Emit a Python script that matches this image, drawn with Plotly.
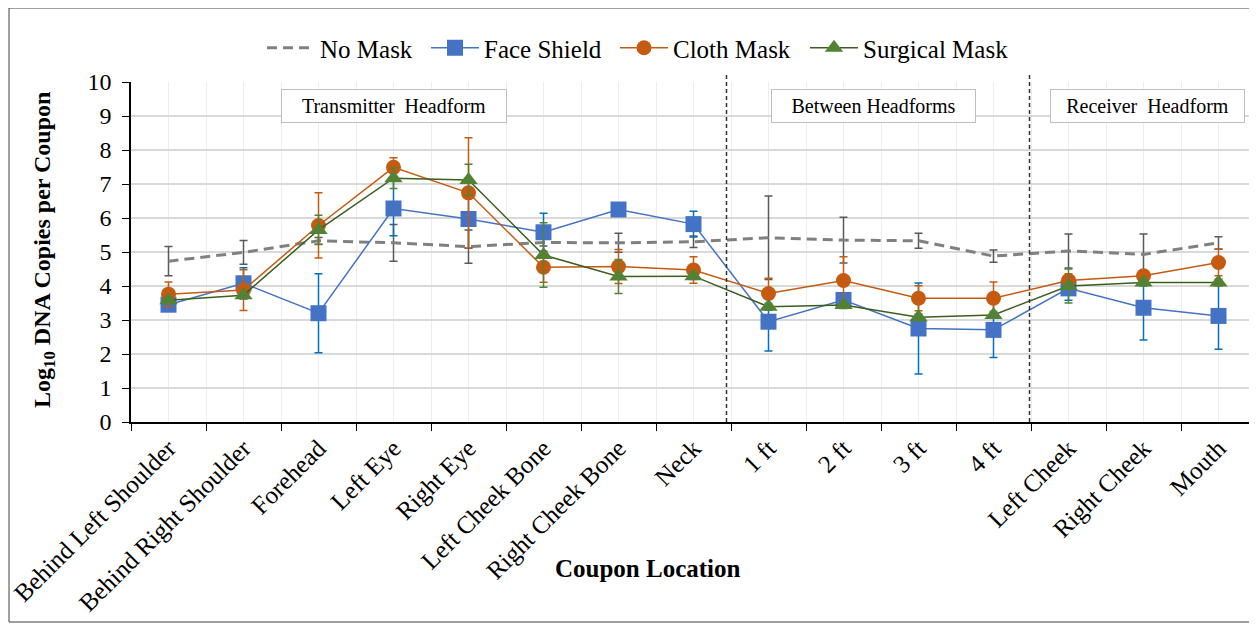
import plotly.graph_objects as go

categories = ["Behind Left Shoulder", "Behind Right Shoulder", "Forehead", "Left Eye",
              "Right Eye", "Left Cheek Bone", "Right Cheek Bone", "Neck",
              "1 ft", "2 ft", "3 ft", "4 ft", "Left Cheek", "Right Cheek", "Mouth"]

no_mask = [4.73, 4.99, 5.33, 5.27, 5.16, 5.28, 5.27, 5.30, 5.42, 5.35, 5.33, 4.88, 5.03, 4.93, 5.27]
no_mask_err = [0.43, 0.35, 0.10, 0.54, 0.49, 0.10, 0.28, 0.17, 1.23, 0.67, 0.22, 0.18, 0.50, 0.60, 0.18]

face_shield = [3.45, 4.08, 3.20, 6.28, 5.97, 5.58, 6.25, 5.82, 2.95, 3.59, 2.75, 2.71, 3.93, 3.36, 3.12]
face_shield_err = [0.10, 0.46, 1.16, 0.80, 0.86, 0.56, 0.10, 0.38, 0.86, 0.10, 1.34, 0.81, 0.35, 0.95, 0.98]

cloth_mask = [3.76, 3.88, 5.78, 7.49, 6.74, 4.55, 4.57, 4.47, 3.78, 4.16, 3.64, 3.64, 4.16, 4.30, 4.69]
cloth_mask_err = [0.36, 0.60, 0.96, 0.28, 1.62, 0.44, 0.50, 0.39, 0.45, 0.70, 0.37, 0.48, 0.20, 0.15, 0.39]

surgical_mask = [3.58, 3.73, 5.65, 7.17, 7.12, 4.91, 4.28, 4.29, 3.39, 3.44, 3.08, 3.15, 4.00, 4.10, 4.10]
surgical_mask_err = [0.10, 0.10, 0.43, 0.30, 0.46, 0.95, 0.50, 0.10, 0.10, 0.10, 0.10, 0.10, 0.50, 0.10, 0.10]

section_labels = ["Transmitter  Headform", "Between Headforms", "Receiver  Headform"]
section_x = [3.0, 9.4, 13.05]
section_box_w = [216, 195, 185]
separators = [7.44, 11.48]

FONT = "Liberation Serif"
xs = list(range(len(categories)))

# page offset of the figure (browser body margin)
OFF = 8
# plot area in page pixels
PL, PR, PT, PB = 131, 1256, 82, 422
W, H = 1257 - OFF, 625 - OFF


def px(x):
    return (x - PL) / (PR - PL)


def py(y):
    return (PB - y) / (PB - PT)


fig = go.Figure()

fig.add_trace(go.Scatter(
    x=xs, y=no_mask, name="No Mask", mode="lines", legendwidth=101,
    line=dict(color="#808080", width=3, dash="10px,6px"),
    error_y=dict(type="data", array=no_mask_err, color="#595959", thickness=1.5, width=4),
))
fig.add_trace(go.Scatter(
    x=xs, y=face_shield, name="Face Shield", mode="lines+markers", legendwidth=126,
    line=dict(color="#4472C4", width=1.5),
    marker=dict(symbol="square", size=16, color="#4472C4"),
    error_y=dict(type="data", array=face_shield_err, color="#0070C0", thickness=1.5, width=4),
))
fig.add_trace(go.Scatter(
    x=xs, y=cloth_mask, name="Cloth Mask", mode="lines+markers", legendwidth=127,
    line=dict(color="#C55A11", width=1.5),
    marker=dict(symbol="circle", size=15, color="#C55A11"),
    error_y=dict(type="data", array=cloth_mask_err, color="#C55A11", thickness=1.5, width=4),
))
fig.add_trace(go.Scatter(
    x=xs, y=surgical_mask, name="Surgical Mask", mode="lines+markers",
    line=dict(color="#3A5F1E", width=1.5),
    marker=dict(symbol="triangle-up", size=16, color="#548235"),
    error_y=dict(type="data", array=surgical_mask_err, color="#548235", thickness=1.5, width=4),
))

shapes = []
for sx in separators:
    shapes.append(dict(type="line", xref="x", yref="paper", x0=sx, x1=sx, y0=0, y1=py(75),
                       line=dict(color="#333333", width=1.5, dash="4px,3px")))
# outer chart border
shapes.append(dict(type="rect", xref="paper", yref="paper",
                   x0=px(9), x1=1.0, y0=py(622), y1=py(OFF),
                   line=dict(color="#404040", width=1), layer="below"))
fig.update_layout(shapes=shapes)

for lab, sx, bw in zip(section_labels, section_x, section_box_w):
    fig.add_annotation(x=sx, y=9.28, xref="x", yref="y", text=lab, showarrow=False,
                       font=dict(family=FONT, size=20, color="black"),
                       bordercolor="#BFBFBF", borderwidth=1, borderpad=4,
                       bgcolor="white", width=bw, height=24)

fig.add_annotation(x=px(648), y=py(568), xref="paper", yref="paper",
                   xanchor="center", yanchor="middle",
                   text="<b>Coupon Location</b>", showarrow=False,
                   font=dict(family=FONT, size=25, color="black"))
fig.add_annotation(x=px(44), y=py(250), xref="paper", yref="paper",
                   xanchor="center", yanchor="middle",
                   text="<b>Log<sub>10</sub> DNA Copies per Coupon</b>", showarrow=False,
                   textangle=-90, font=dict(family=FONT, size=24, color="black"))

fig.update_layout(
    width=W, height=H,
    margin=dict(l=PL - OFF, r=W - (PR - OFF), t=PT - OFF, b=H - (PB - OFF)),
    paper_bgcolor="white", plot_bgcolor="white",
    font=dict(family=FONT, size=24, color="black"),
    legend=dict(orientation="h", x=px(262), xanchor="left",
                y=py(48), yanchor="middle",
                font=dict(family=FONT, size=25, color="black"),
                bgcolor="rgba(0,0,0,0)", itemwidth=48, tracegroupgap=0),
    showlegend=True,
)

fig.update_xaxes(
    range=[-0.5, len(categories) - 0.5],
    tickmode="array", tickvals=xs, ticktext=categories, tickangle=-45,
    ticks="", showgrid=True, gridcolor="#EDEDED", gridwidth=1,
    showline=True, linecolor="black", linewidth=1.5,
    tickfont=dict(family=FONT, size=25, color="black"),
    minor=dict(tick0=0.5, dtick=1, ticks="outside", ticklen=7, tickcolor="black",
               showgrid=True, gridcolor="#EDEDED"),
    zeroline=False, fixedrange=True,
)
fig.update_yaxes(
    range=[0, 10], dtick=1, ticks="outside", ticklen=7, tickcolor="black",
    ticklabelstandoff=6,
    showgrid=True, gridcolor="#D9D9D9", gridwidth=1.5,
    showline=True, linecolor="black", linewidth=1.5,
    tickfont=dict(family=FONT, size=24, color="black"),
    zeroline=False, fixedrange=True,
)

fig.write_html("out.html")
